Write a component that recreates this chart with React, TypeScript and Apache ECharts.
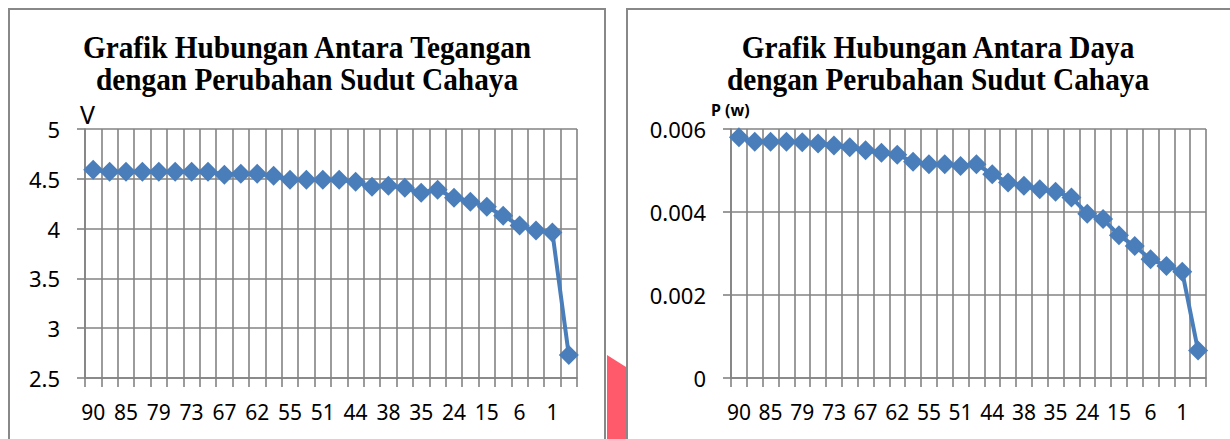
import React, { useEffect, useRef } from "react";
import * as echarts from "echarts";

// Visible angle labels (every other category is unlabeled)
const angleLabels = ["90", "85", "79", "73", "67", "62", "55", "51", "44", "38", "35", "24", "15", "6", "1"];
const categories: string[] = angleLabels.flatMap((l) => [l, ""]);

const teganganV = [
  4.59, 4.57, 4.57, 4.57, 4.57, 4.57, 4.57, 4.57, 4.54, 4.55,
  4.55, 4.53, 4.49, 4.49, 4.49, 4.49, 4.47, 4.42, 4.43, 4.41,
  4.36, 4.39, 4.31, 4.27, 4.22, 4.13, 4.03, 3.98, 3.96, 2.73,
];

const dayaP = [
  0.0058, 0.00569, 0.00569, 0.00569, 0.00568, 0.00565, 0.0056, 0.00556, 0.00549, 0.00543,
  0.00538, 0.00521, 0.00515, 0.00515, 0.00511, 0.00515, 0.00491, 0.00471, 0.00463, 0.00455,
  0.00449, 0.00435, 0.00396, 0.00383, 0.00344, 0.00318, 0.00286, 0.0027, 0.00256, 0.00066,
];

const titleLeft = ["Grafik Hubungan Antara Tegangan", "dengan Perubahan Sudut Cahaya"];
const titleRight = ["Grafik Hubungan Antara Daya", "dengan Perubahan Sudut Cahaya"];

const GRID = "#838383";
const BLUE = "#4A7EBB";
const LABEL_FONT = '"Noto Sans", sans-serif';

export default function App() {
  const ref = useRef<HTMLDivElement>(null);
  useEffect(() => {
    document.body.style.margin = "0";
    if (!ref.current) return;
    const chart = echarts.init(ref.current, undefined, { renderer: "svg" });

    const xAxisBase = (gridIndex: number) => ({
      type: "category" as const,
      gridIndex,
      data: categories,
      boundaryGap: true,
      axisLine: { show: true, lineStyle: { color: GRID, width: 1.6 } },
      axisTick: { show: true, interval: 0, length: 9, lineStyle: { color: GRID, width: 1.6 } },
      axisLabel: { interval: 0, color: "#000", fontFamily: LABEL_FONT, fontSize: 21, margin: 23 },
      splitLine: { show: true, interval: 0, lineStyle: { color: GRID, width: 1.6 } },
    });
    const yAxisBase = (gridIndex: number, min: number, max: number, interval: number) => ({
      type: "value" as const,
      gridIndex,
      min,
      max,
      interval,
      axisLine: { show: true, lineStyle: { color: GRID, width: 1.6 } },
      axisTick: { show: true, length: 8, lineStyle: { color: GRID, width: 1.6 } },
      axisLabel: { color: "#000", fontFamily: LABEL_FONT, fontSize: 22, margin: 25 },
      splitLine: { show: true, lineStyle: { color: GRID, width: 1.6 } },
    });

    const titleText = (lines: string[], cx: number) =>
      lines.map((t, i) => ({
        type: "text",
        x: cx,
        y: 48 + i * 32,
        scaleX: 0.915,
        style: {
          text: t,
          fill: "#000",
          font: 'bold 32px "Liberation Serif", serif',
          textAlign: "center",
          textVerticalAlign: "middle",
        },
      }));

    chart.setOption({
      animation: false,
      backgroundColor: "#fff",
      grid: [
        { left: 85, top: 129, width: 492, height: 249 },
        { left: 731, top: 129, width: 475, height: 249 },
      ],
      xAxis: [xAxisBase(0), xAxisBase(1)],
      yAxis: [yAxisBase(0, 2.5, 5, 0.5), yAxisBase(1, 0, 0.006, 0.002)],
      series: [
        {
          type: "line",
          xAxisIndex: 0,
          yAxisIndex: 0,
          data: teganganV,
          symbol: "diamond",
          symbolSize: 20,
          itemStyle: { color: BLUE },
          lineStyle: { color: BLUE, width: 4 },
        },
        {
          type: "line",
          xAxisIndex: 1,
          yAxisIndex: 1,
          data: dayaP,
          symbol: "diamond",
          symbolSize: 20,
          itemStyle: { color: BLUE },
          lineStyle: { color: BLUE, width: 4 },
        },
      ],
      graphic: [
        // chart frames
        { type: "polyline", shape: { points: [[9, 439], [9, 9], [605, 9], [605, 439]] }, style: { stroke: "#888", lineWidth: 2, fill: null } },
        { type: "polyline", shape: { points: [[627, 439], [627, 9], [1232, 9]] }, style: { stroke: "#888", lineWidth: 2, fill: null } },
        // red shape between the frames
        { type: "polygon", shape: { points: [[607, 355], [626, 367], [626, 439], [607, 439]] }, style: { fill: "#FF5A6B" } },
        ...titleText(titleLeft, 307),
        ...titleText(titleRight, 938),
        { type: "text", x: 80, y: 114, style: { text: "V", fill: "#000", font: '25px "Noto Sans", sans-serif', textVerticalAlign: "middle" } },
        { type: "text", x: 711, y: 110, style: { text: "P (w)", fill: "#000", font: 'bold 16px "Noto Sans", sans-serif', textVerticalAlign: "middle" } },
      ],
    });
    return () => chart.dispose();
  }, []);
  return <div ref={ref} style={{ width: 1230, height: 439 }} />;
}
